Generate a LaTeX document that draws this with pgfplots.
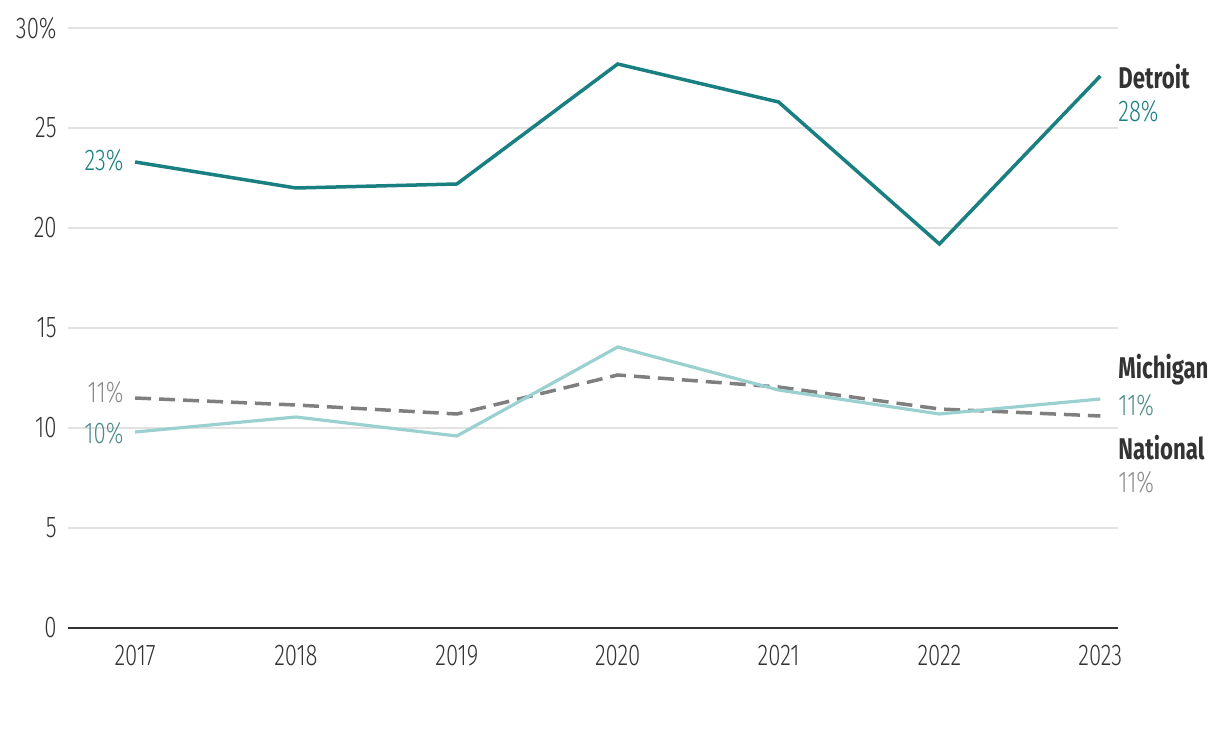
\documentclass[border=0pt]{standalone}
\usepackage{pgfplots}
\pgfplotsset{compat=1.18}
\usepackage{fontspec}
\setmainfont{Fira Sans}[UprightFont={* Light}, BoldFont={* Bold}, FakeStretch=0.74]
\definecolor{detroit}{HTML}{1A7F80}
\definecolor{michigan}{HTML}{9AD1D0}
\definecolor{michtext}{HTML}{4E8C8A}
\definecolor{national}{HTML}{7F7F7F}
\definecolor{nattext}{HTML}{8A8A8A}
\definecolor{darktext}{HTML}{333333}
\definecolor{gridc}{HTML}{E2E2E2}
\begin{document}
\begin{tikzpicture}
\path[use as bounding box] (-34pt,-61pt) rectangle (576pt,314pt);
\begin{axis}[
  scale only axis, width=525pt, height=300pt,
  xmin=2016.583, xmax=2023.11, ymin=0, ymax=30,
  clip=false,
  axis x line*=bottom, axis y line*=left,
  y axis line style={draw=none},
  x axis line style={-, color=darktext, line width=1pt},
  major tick length=0pt,
  ymajorgrids, grid style={color=gridc, line width=1pt},
  xtick={2017,2018,2019,2020,2021,2022,2023},
  xticklabels={2017,2018,2019,2020,2021,2022,2023},
  ytick={0,5,10,15,20,25,30},
  yticklabels={0,5,10,15,20,25,30\%},
  tick label style={font=\fontsize{15}{17}\selectfont, text=darktext},
  yticklabel style={anchor=east, inner sep=0pt, xshift=-5.5pt},
  xticklabel style={anchor=north, inner sep=0pt, yshift=-8.5pt},
]
\addplot[color=national, line width=1.75pt, dash pattern=on 8pt off 4pt] coordinates {
(2017,11.5) (2018,11.15) (2019,10.7) (2020,12.65) (2021,12.05) (2022,10.95) (2023,10.6)};
\addplot[color=michigan, line width=1.6pt] coordinates {
(2017,9.8) (2018,10.55) (2019,9.6) (2020,14.05) (2021,11.9) (2022,10.7) (2023,11.45)};
\addplot[color=detroit, line width=1.75pt] coordinates {
(2017,23.3) (2018,22.0) (2019,22.2) (2020,28.2) (2021,26.3) (2022,19.2) (2023,27.6)};
\begin{scope}[font=\fontsize{15}{17}\selectfont]
\node[anchor=east, inner sep=0pt, text=detroit] at (axis cs:2016.93,23.4) {23\%};
\node[anchor=east, inner sep=0pt, text=nattext] at (axis cs:2016.93,11.8) {11\%};
\node[anchor=east, inner sep=0pt, text=michtext] at (axis cs:2016.93,9.75) {10\%};
\node[anchor=west, inner sep=0pt, text=darktext, font=\fontsize{15}{17}\selectfont\bfseries] at (axis cs:2023.11,27.55) {Detroit};
\node[anchor=west, inner sep=0pt, text=detroit] at (axis cs:2023.11,25.85) {28\%};
\node[anchor=west, inner sep=0pt, text=darktext, font=\fontsize{15}{17}\selectfont\bfseries] at (axis cs:2023.11,12.9) {Michigan};
\node[anchor=west, inner sep=0pt, text=michtext] at (axis cs:2023.11,11.15) {11\%};
\node[anchor=west, inner sep=0pt, text=darktext, font=\fontsize{15}{17}\selectfont\bfseries] at (axis cs:2023.11,9.0) {National};
\node[anchor=west, inner sep=0pt, text=nattext] at (axis cs:2023.11,7.3) {11\%};
\end{scope}
\end{axis}
\end{tikzpicture}
\end{document}
